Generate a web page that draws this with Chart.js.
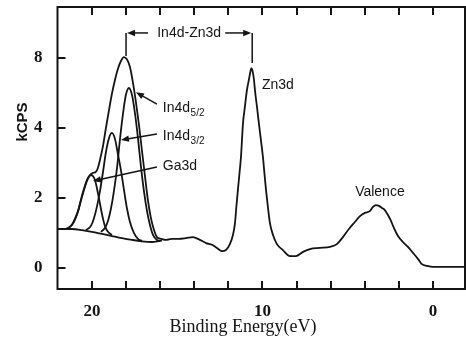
<!DOCTYPE html>
<html>
<head>
<meta charset="utf-8">
<title>XPS spectrum</title>
<script src="https://cdn.jsdelivr.net/npm/chart.js@4.4.1/dist/chart.umd.min.js"></script>
<style>
  html, body { margin: 0; padding: 0; background: #fff; }
  canvas { display: block; }
</style>
</head>
<body>
<canvas id="xpsChart" width="466" height="340"></canvas>
<script>
// binding energy (eV) and intensity (axis units)
const envelopeE = [22.0, 21.64, 21.41, 21.17, 21.0, 20.82, 20.65, 20.47, 20.29, 20.12,
  19.94, 19.77, 19.65, 19.53, 19.35, 19.18, 19.0, 18.83, 18.65, 18.48,
  18.3, 18.12, 17.95, 17.77, 17.6, 17.42, 17.24, 17.07, 16.89, 16.72,
  16.54, 16.36, 16.19, 15.95, 15.66, 15.31, 14.9, 14.49, 14.08, 13.67,
  13.31, 12.96, 12.67, 12.38, 12.14, 11.91, 11.73, 11.61, 11.53, 11.44,
  11.35, 11.26, 11.2, 11.14, 11.03, 10.91, 10.79, 10.7, 10.65, 10.59,
  10.5, 10.44, 10.32, 10.21, 10.09, 9.97, 9.88, 9.79, 9.68, 9.56,
  9.38, 9.15, 8.8, 8.39, 8.04, 7.62, 7.21, 6.63, 6.04, 5.63,
  5.28, 4.93, 4.58, 4.28, 3.99, 3.7, 3.52, 3.34, 3.17, 2.99,
  2.82, 2.64, 2.46, 2.29, 2.05, 1.76, 1.47, 1.17, 0.88, 0.65,
  0.35, 0.0, -0.7, -1.88];
const envelopeV = [1.11, 1.11, 1.14, 1.23, 1.40, 1.62, 1.94, 2.25, 2.51, 2.65,
  2.71, 2.74, 2.85, 3.08, 3.48, 3.99, 4.50, 4.96, 5.36, 5.67,
  5.90, 6.01, 5.95, 5.73, 5.30, 4.73, 4.07, 3.36, 2.62, 1.94,
  1.42, 1.08, 0.88, 0.83, 0.80, 0.83, 0.83, 0.85, 0.88, 0.80,
  0.71, 0.66, 0.57, 0.48, 0.51, 0.68, 0.94, 1.28, 1.74, 2.22,
  2.68, 3.16, 3.65, 4.13, 4.59, 5.07, 5.38, 5.61, 5.70, 5.64,
  5.38, 5.07, 4.59, 4.13, 3.65, 3.16, 2.68, 2.22, 1.74, 1.28,
  0.94, 0.68, 0.51, 0.34, 0.34, 0.46, 0.54, 0.57, 0.60, 0.68,
  0.88, 1.11, 1.31, 1.48, 1.57, 1.62, 1.74, 1.79, 1.77, 1.71,
  1.65, 1.51, 1.34, 1.14, 0.91, 0.74, 0.60, 0.43, 0.26, 0.11,
  0.06, 0.03, 0.03, 0.03];

const ga3dE = [22.0, 21.52, 21.29, 21.06, 20.82, 20.65, 20.47, 20.29, 20.18, 20.06,
  19.94, 19.82, 19.71, 19.59, 19.47, 19.35, 19.24, 19.06, 18.83];
const ga3dV = [1.11, 1.11, 1.17, 1.31, 1.60, 1.91, 2.22, 2.48, 2.59, 2.65,
  2.62, 2.51, 2.28, 1.99, 1.68, 1.40, 1.20, 1.03, 0.94];

const in32E = [20.35, 20.06, 19.88, 19.71, 19.53, 19.35, 19.18, 19.0, 18.83, 18.65,
  18.48, 18.3, 18.12, 17.95, 17.77, 17.54, 17.3, 17.07];
const in32V = [1.08, 1.20, 1.42, 1.74, 2.19, 2.74, 3.30, 3.70, 3.85, 3.68,
  3.25, 2.79, 2.22, 1.71, 1.31, 1.00, 0.83, 0.77];

const in52E = [19.47, 19.24, 19.06, 18.89, 18.71, 18.53, 18.36, 18.18, 18.01, 17.83,
  17.65, 17.48, 17.3, 17.13, 16.95, 16.77, 16.6, 16.42, 16.19, 15.9];
const in52V = [1.03, 1.14, 1.34, 1.68, 2.19, 2.85, 3.65, 4.39, 4.93, 5.13,
  4.93, 4.42, 3.70, 2.91, 2.19, 1.62, 1.23, 0.94, 0.80, 0.77];

const backgroundE = [22.0, 21.17, 20.59, 20.0, 19.41, 18.83, 18.24, 17.65, 17.07, 16.48, 16.01];
const backgroundV = [1.11, 1.11, 1.08, 1.03, 0.97, 0.91, 0.85, 0.80, 0.76, 0.74, 0.77];

const xTickValues = [0, 2, 4, 6, 8, 10, 12, 14, 16, 18, 20];
const xTickLabels = ['0', '10', '20'];
// the original axis is labelled 0, 2, 4, 8 at equal spacing
const yTickValues = [0, 2, 4, 6];
const yTickLabels = ['0', '2', '4', '8'];

const INK = '#141414';
const serif = '"Liberation Serif", "Times New Roman", serif';
const sans = '"Liberation Sans", Arial, sans-serif';

function toPoints(es, vs) {
    return es.map((e, i) => ({ x: e, y: vs[i] }));
}

function curve(es, vs) {
    return {
        data: toPoints(es, vs),
        borderColor: INK,
        borderWidth: 1.8,
        pointRadius: 0,
        fill: false,
        cubicInterpolationMode: 'monotone'
    };
}

function arrow(ctx, x1, y1, x2, y2) {
    const a = Math.atan2(y2 - y1, x2 - x1), len = 8, w = 3.2;
    ctx.beginPath();
    ctx.moveTo(x1, y1);
    ctx.lineTo(x2 - Math.cos(a) * len * 0.6, y2 - Math.sin(a) * len * 0.6);
    ctx.stroke();
    ctx.beginPath();
    ctx.moveTo(x2, y2);
    ctx.lineTo(x2 - len * Math.cos(a) + w * Math.sin(a), y2 - len * Math.sin(a) - w * Math.cos(a));
    ctx.lineTo(x2 - len * Math.cos(a) - w * Math.sin(a), y2 - len * Math.sin(a) + w * Math.cos(a));
    ctx.closePath();
    ctx.fill();
}

function subLabel(ctx, x, y, main, sub) {
    ctx.textAlign = 'left';
    ctx.textBaseline = 'middle';
    ctx.font = '14px ' + sans;
    ctx.fillText(main, x, y);
    const w = ctx.measureText(main).width;
    ctx.font = '10px ' + sans;
    ctx.fillText(sub, x + w + 0.5, y + 5);
}

// frame, inward tick marks, axis titles
const framePlugin = {
    id: 'frame',
    afterDraw(chart) {
        const { ctx, chartArea: a, scales } = chart;
        ctx.save();
        ctx.strokeStyle = INK;
        ctx.lineWidth = 2;
        ctx.strokeRect(a.left, a.top, a.right - a.left, a.bottom - a.top);

        ctx.fillStyle = INK;
        xTickValues.forEach(v => {
            const x = Math.round(scales.x.getPixelForValue(v));
            ctx.fillRect(x - 1, a.bottom - 8, 2, 8);
            ctx.fillRect(x - 1, a.top, 2, 8);
        });
        yTickValues.forEach(v => {
            const y = Math.round(scales.y.getPixelForValue(v));
            ctx.fillRect(a.left, y - 1, 8, 2);
        });

        ctx.textAlign = 'center';
        ctx.textBaseline = 'middle';
        ctx.font = '18px ' + serif;
        ctx.fillText('Binding Energy(eV)', 243, 327);
        ctx.save();
        ctx.translate(23, 122);
        ctx.rotate(-Math.PI / 2);
        ctx.font = 'bold 15px ' + sans;
        ctx.fillText('kCPS', 0, 0);
        ctx.restore();
        ctx.restore();
    }
};

// peak labels and arrows, anchored in data coordinates
const labelPlugin = {
    id: 'peakLabels',
    afterDatasetsDraw(chart) {
        const { ctx, scales } = chart;
        const px = e => scales.x.getPixelForValue(e);
        const py = v => scales.y.getPixelForValue(v);
        ctx.save();
        ctx.strokeStyle = INK;
        ctx.fillStyle = INK;
        ctx.lineWidth = 1.5;

        // In4d - Zn3d separation bracket
        const lx = px(18.0), rx = px(10.6), ty = py(6.7);
        ctx.beginPath();
        ctx.moveTo(lx, ty); ctx.lineTo(lx, py(6.04));
        ctx.moveTo(rx, ty); ctx.lineTo(rx, py(5.84));
        ctx.stroke();
        arrow(ctx, lx + 22, ty, lx + 1, ty);
        arrow(ctx, rx - 27, ty, rx - 1, ty);
        ctx.font = '14px ' + sans;
        ctx.textAlign = 'center';
        ctx.textBaseline = 'middle';
        ctx.fillText('In4d-Zn3d', (lx + rx) / 2, ty);

        ctx.textAlign = 'left';
        ctx.fillText('Zn3d', px(10.03), py(5.2));
        ctx.textAlign = 'center';
        ctx.fillText('Valence', px(3.11), py(2.17));

        subLabel(ctx, px(15.84), py(4.56), 'In4d', '5/2');
        arrow(ctx, px(16.19), py(4.67), px(17.42), py(5.01));
        subLabel(ctx, px(15.84), py(3.76), 'In4d', '3/2');
        arrow(ctx, px(16.19), py(3.82), px(18.3), py(3.65));
        ctx.font = '14px ' + sans;
        ctx.textAlign = 'left';
        ctx.fillText('Ga3d', px(15.84), py(2.91));
        arrow(ctx, px(16.19), py(2.88), px(19.94), py(2.48));
        ctx.restore();
    }
};

const tickFont = { family: serif, size: 17, weight: 'bold' };

new Chart(document.getElementById('xpsChart'), {
    type: 'line',
    data: {
        datasets: [
            curve(backgroundE, backgroundV),
            curve(ga3dE, ga3dV),
            curve(in32E, in32V),
            curve(in52E, in52V),
            curve(envelopeE, envelopeV)
        ]
    },
    options: {
        responsive: false,
        animation: false,
        layout: { padding: { top: 7, right: 1, left: 0, bottom: 0 } },
        plugins: { legend: { display: false }, tooltip: { enabled: false } },
        scales: {
            x: {
                type: 'linear',
                reverse: true,
                min: -1.88,
                max: 22.02,
                afterBuildTicks: s => { s.ticks = xTickValues.map(v => ({ value: v })); },
                afterFit: s => { s.height = 51; s.paddingLeft = 0; s.paddingRight = 0; },
                grid: { display: false },
                border: { display: false },
                ticks: {
                    autoSkip: false, maxRotation: 0, padding: 4,
                    color: INK, font: tickFont,
                    callback: v => xTickLabels.includes(String(v)) ? String(v) : ''
                }
            },
            y: {
                min: -0.6,
                max: 7.44,
                afterBuildTicks: s => { s.ticks = yTickValues.map(v => ({ value: v })); },
                afterFit: s => { s.width = 57.5; s.paddingTop = 0; s.paddingBottom = 0; },
                grid: { display: false },
                border: { display: false },
                ticks: {
                    padding: 7, color: INK, font: tickFont,
                    callback: v => yTickLabels[yTickValues.indexOf(v)]
                }
            }
        }
    },
    plugins: [framePlugin, labelPlugin]
});
</script>
</body>
</html>
